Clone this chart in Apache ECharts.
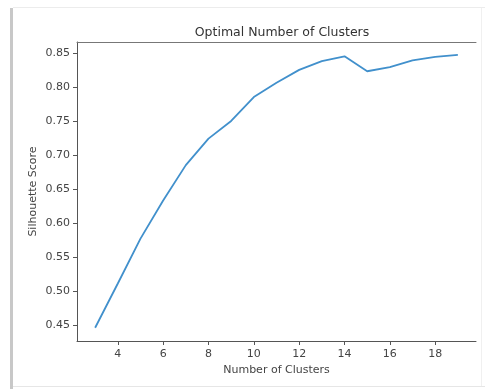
<!DOCTYPE html>
<html>
<head>
<meta charset="utf-8">
<script src="https://cdn.jsdelivr.net/npm/echarts@6/dist/echarts.min.js"></script>
<style>
html, body { margin: 0; padding: 0; background: #fff; }
#mycharts { width: 485px; height: 389px; }
</style>
</head>
<body>
<div id="mycharts"></div>
<script>
// data
var clusters = [3, 4, 5, 6, 7, 8, 9, 10, 11, 12, 13, 14, 15, 16, 17, 18, 19];
var scores = [0.446, 0.511, 0.577, 0.633, 0.685, 0.724, 0.750, 0.785, 0.806, 0.825, 0.838, 0.845, 0.823, 0.829, 0.839, 0.844, 0.847];
var xTicks = [4, 6, 8, 10, 12, 14, 16, 18];
var yTicks = [0.45, 0.50, 0.55, 0.60, 0.65, 0.70, 0.75, 0.80, 0.85];

var textColor = '#444';
var axisColor = '#555';

var myChart = echarts.init(document.getElementById('mycharts'));

var option = {
    backgroundColor: '#fff',
    animation: false,
    title: {
        text: 'Optimal Number of Clusters',
        left: 277,
        top: 21,
        textAlign: 'center',
        textStyle: {
            fontFamily: 'DejaVu Sans',
            fontSize: 12.5,
            fontWeight: 'normal',
            color: '#333'
        }
    },
    grid: {
        left: 77,
        right: 9,
        top: 42,
        bottom: 48
    },
    xAxis: [{
        type: 'value',
        min: 2.2,
        max: 19.8,
        name: 'Number of Clusters',
        nameLocation: 'middle',
        nameGap: 24,
        nameMoveOverlap: false,
        nameTextStyle: { fontFamily: 'DejaVu Sans', fontSize: 11, color: textColor },
        splitLine: { show: false },
        axisLine: { show: true, onZero: false, lineStyle: { color: axisColor, width: 1 } },
        axisTick: { show: true, length: 4, customValues: xTicks, lineStyle: { color: axisColor } },
        axisLabel: {
            customValues: xTicks,
            margin: 8,
            fontFamily: 'DejaVu Sans',
            fontSize: 11,
            color: textColor
        }
    }, {
        type: 'value',
        position: 'top',
        min: 2.2,
        max: 19.8,
        splitLine: { show: false },
        axisLine: { show: true, onZero: false, lineStyle: { color: '#777', width: 1 } },
        axisTick: { show: false },
        axisLabel: { show: false }
    }],
    yAxis: {
        type: 'value',
        min: 0.4265,
        max: 0.866,
        name: 'Silhouette Score',
        nameLocation: 'middle',
        nameGap: 38,
        nameMoveOverlap: false,
        nameRotate: 90,
        nameTextStyle: { fontFamily: 'DejaVu Sans', fontSize: 11, color: textColor },
        splitLine: { show: false },
        axisLine: { show: true, onZero: false, lineStyle: { color: axisColor, width: 1 } },
        axisTick: { show: true, length: 4, customValues: yTicks, lineStyle: { color: axisColor } },
        axisLabel: {
            customValues: yTicks,
            margin: 7,
            fontFamily: 'DejaVu Sans',
            fontSize: 11,
            color: textColor,
            formatter: function (v) { return v.toFixed(2); }
        }
    },
    graphic: [
        { type: 'rect', shape: { x: 10, y: 8, width: 3, height: 381 }, style: { fill: '#c8c8c8' } },
        { type: 'line', shape: { x1: 13, y1: 7.5, x2: 485, y2: 7.5 }, style: { stroke: '#ececec', lineWidth: 1 } },
        { type: 'line', shape: { x1: 13, y1: 386.5, x2: 485, y2: 386.5 }, style: { stroke: '#e6e6e6', lineWidth: 1 } },
        { type: 'line', shape: { x1: 481.5, y1: 8, x2: 481.5, y2: 386 }, style: { stroke: '#f0f0f0', lineWidth: 1 } }
    ],
    series: [{
        name: 'Silhouette Score',
        type: 'line',
        data: clusters.map(function (c, i) { return [c, scores[i]]; }),
        symbol: 'none',
        lineStyle: { color: '#4190cc', width: 1.8 }
    }]
};

myChart.setOption(option);
</script>
</body>
</html>
